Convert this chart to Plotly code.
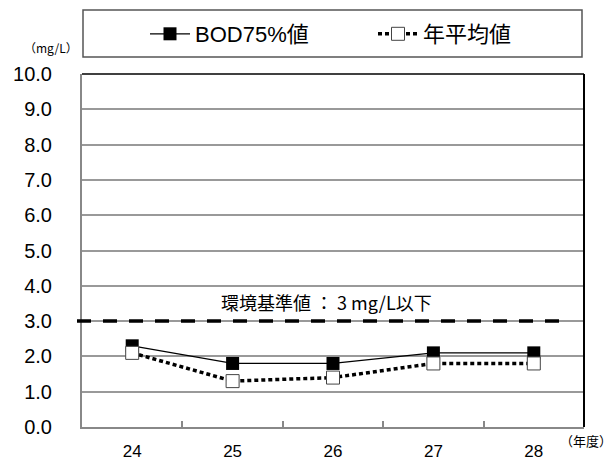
import plotly.graph_objects as go

years = ["24", "25", "26", "27", "28"]
bod75 = [2.3, 1.8, 1.8, 2.1, 2.1]
annual_mean = [2.1, 1.3, 1.4, 1.8, 1.8]
standard_value = 3.0
y_ticks = [0, 1, 2, 3, 4, 5, 6, 7, 8, 9, 10]
y_tick_labels = [f"{v:.1f}" for v in y_ticks]

FONT = "Liberation Sans, Arial, Noto Sans CJK JP"
CJK = "Noto Sans CJK JP, Liberation Sans"

L, R, T, B = 82, 30, 74, 34
PW, PH = 614 - L - R, 461 - T - B


def px(x):
    return (x - L) / PW


def py(y):
    return (461 - B - y) / PH


fig = go.Figure()
fig.add_trace(go.Scatter(
    x=years, y=bod75, name="BOD75%値", mode="lines+markers",
    line=dict(color="black", width=1.2),
    marker=dict(symbol="square", size=13, color="black"),
    legend="legend",
))
fig.add_trace(go.Scatter(
    x=years, y=annual_mean, name="年平均値", mode="lines+markers",
    line=dict(color="black", width=3.5, dash="4px,3px"),
    marker=dict(symbol="square", size=13, color="white",
                line=dict(color="#444", width=1)),
    legend="legend2",
))

# environmental standard dashed line
fig.add_shape(type="line", xref="paper", yref="y",
              x0=px(77), x1=px(564), y0=standard_value, y1=standard_value,
              line=dict(color="black", width=3.5, dash="14px,12px"), layer="above")
fig.add_annotation(xref="paper", yref="y", x=px(326), y=standard_value,
                   yshift=19, text="環境基準値 ： 3 mg/L以下", showarrow=False,
                   font=dict(family=CJK, size=18, color="black"))

# frame top/right black
fig.add_shape(type="line", xref="paper", yref="paper", x0=0, x1=1, y0=1, y1=1,
              line=dict(color="black", width=1.5))
fig.add_shape(type="line", xref="paper", yref="paper", x0=1, x1=1, y0=0, y1=1,
              line=dict(color="black", width=2))

# legend box
fig.add_shape(type="rect", xref="paper", yref="paper",
              x0=px(83), x1=px(582), y0=py(57), y1=py(10),
              line=dict(color="#555", width=1.5), fillcolor="rgba(0,0,0,0)")

fig.add_annotation(xref="paper", yref="paper", x=px(80), y=py(47),
                   xanchor="right", yanchor="middle", text="（mg/L）",
                   showarrow=False, font=dict(family=CJK, size=12, color="black"))
fig.add_annotation(xref="paper", yref="paper", x=px(614), y=py(440),
                   xanchor="right", yanchor="middle", text="（年度）",
                   showarrow=False, font=dict(family=CJK, size=13, color="black"))

leg_common = dict(orientation="h", yanchor="middle", xanchor="left",
                  font=dict(family=FONT, size=22, color="black"),
                  bgcolor="rgba(0,0,0,0)", borderwidth=0, itemwidth=40)

fig.update_layout(
    width=614, height=461,
    margin=dict(l=L, r=R, t=T, b=B, autoexpand=False),
    paper_bgcolor="white", plot_bgcolor="white",
    showlegend=True,
    legend=dict(x=px(145), y=py(34), **leg_common),
    legend2=dict(x=px(373), y=py(34), **leg_common),
    xaxis=dict(type="category", showline=True, linecolor="#888", linewidth=2,
               ticks="inside", tickson="boundaries", ticklen=6, tickcolor="#888",
               tickwidth=1.5, showgrid=False, ticklabelstandoff=8,
               tickfont=dict(family=FONT, size=17, color="black"),
               range=[-0.5, 4.5]),
    yaxis=dict(range=[0, 10], tickvals=y_ticks, ticktext=y_tick_labels,
               showline=True, linecolor="#888", linewidth=2, ticks="",
               showgrid=True, gridcolor="#999", gridwidth=1.5,
               zeroline=False, ticklabelstandoff=24,
               tickfont=dict(family=FONT, size=20, color="black")),
)

fig.write_html("out.html", config={"displayModeBar": False},
               post_script="document.body.style.margin='0';")
